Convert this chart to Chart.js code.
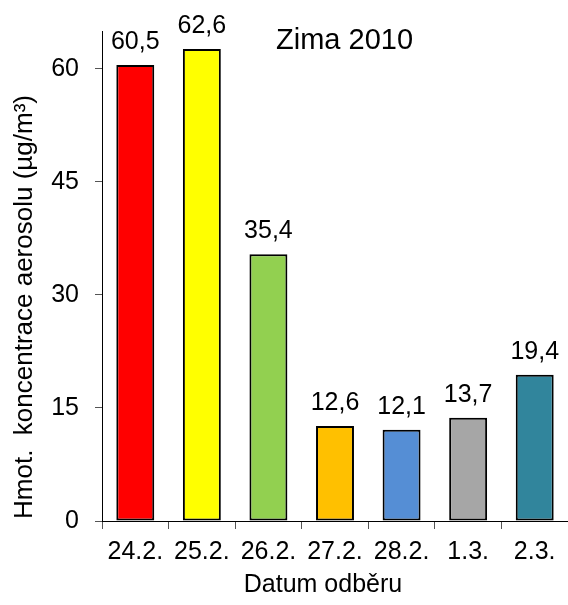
<!DOCTYPE html>
<html>
<head>
<meta charset="utf-8">
<script src="https://cdn.jsdelivr.net/npm/chart.js@4/dist/chart.umd.min.js"></script>
<style>
  html, body { margin: 0; padding: 0; background: #fff; }
  canvas { display: block; }
</style>
</head>
<body>
<canvas id="aerosolChart" width="568" height="605"></canvas>
<script>
const dates = ['24.2.', '25.2.', '26.2.', '27.2.', '28.2.', '1.3.', '2.3.'];
const concentrations = [60.5, 62.6, 35.4, 12.6, 12.1, 13.7, 19.4];
const barColors = ['#ff0000', '#ffff00', '#92d050', '#ffc000', '#558ed5', '#a6a6a6', '#31859c'];
const yTicks = [0, 15, 30, 45, 60];

const chartTitle = 'Zima 2010';
const yTitle = 'Hmot.  koncentrace aerosolu (µg/m³)';
const xTitle = 'Datum odběru';

const FONT = '"Liberation Sans", Arial, sans-serif';

// value labels above bars + titles
const labelsPlugin = {
  id: 'labelsPlugin',
  afterDatasetsDraw(chart) {
    const ctx = chart.ctx;
    const area = chart.chartArea;
    ctx.save();
    ctx.fillStyle = '#000';
    ctx.font = '25px ' + FONT;
    ctx.textAlign = 'center';
    ctx.textBaseline = 'alphabetic';
    chart.getDatasetMeta(0).data.forEach((bar, i) => {
      const text = concentrations[i].toFixed(1).replace('.', ',');
      ctx.fillText(text, bar.x, bar.y - 16);
    });

    // chart title
    ctx.font = '29px ' + FONT;
    ctx.textAlign = 'left';
    ctx.fillText(chartTitle, area.left + 174, 49);

    // x axis title
    ctx.font = '25px ' + FONT;
    ctx.textAlign = 'center';
    ctx.textBaseline = 'middle';
    ctx.fillText(xTitle, 323, 585);

    // y axis title
    ctx.font = '26px ' + FONT;
    ctx.translate(25, 307);
    ctx.rotate(-Math.PI / 2);
    ctx.fillText(yTitle, 0, 0);
    ctx.restore();
  },
};

const ctx = document.getElementById('aerosolChart').getContext('2d');
new Chart(ctx, {
  type: 'bar',
  data: {
    labels: dates,
    datasets: [
      {
        data: concentrations,
        backgroundColor: barColors,
        borderColor: '#000',
        borderWidth: 2,
        borderSkipped: false,
        barPercentage: 0.57,
        categoryPercentage: 1,
      },
    ],
  },
  options: {
    responsive: false,
    animation: false,
    layout: { padding: { top: 30, right: 0, left: 0, bottom: 0 } },
    plugins: {
      legend: { display: false },
      tooltip: { enabled: false },
    },
    scales: {
      x: {
        afterFit: (scale) => { scale.height = 84; },
        grid: {
          offset: true,
          drawOnChartArea: false,
          drawTicks: true,
          tickLength: 8,
          color: '#555',
        },
        border: { color: '#000', width: 1 },
        ticks: {
          color: '#000',
          padding: 8,
          maxRotation: 0,
          font: { family: FONT, size: 25 },
        },
      },
      y: {
        min: 0,
        max: 65,
        afterFit: (scale) => { scale.width = 102; },
        afterBuildTicks: (scale) => {
          scale.ticks = yTicks.map((v) => ({ value: v }));
        },
        grid: {
          drawOnChartArea: false,
          drawTicks: true,
          tickLength: 7,
          color: '#555',
        },
        border: { color: '#000', width: 1 },
        ticks: {
          color: '#000',
          padding: 16,
          font: { family: FONT, size: 25 },
        },
      },
    },
  },
  plugins: [labelsPlugin],
});
</script>
</body>
</html>
